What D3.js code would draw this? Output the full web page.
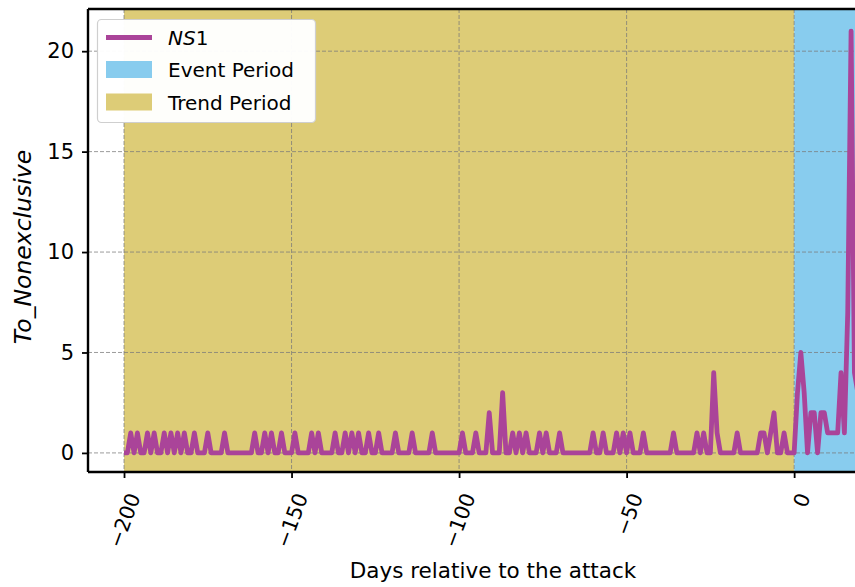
<!DOCTYPE html>
<html>
<head>
<meta charset="utf-8">
<script src="https://cdn.jsdelivr.net/npm/d3@7"></script>
<style>
  body { margin: 0; background: #fff; }
  svg { display: block; }
  text { font-family: "DejaVu Sans", sans-serif; fill: #000; }
</style>
</head>
<body>
<svg id="chart" width="855" height="587"></svg>
<script>
// Daily counts, one value per day starting at day -200
const firstDay = -200;
const counts = [
  // -200 .. -191
  0, 0, 1, 0, 1, 0, 0, 1, 0, 1,
  // -190 .. -181
  0, 0, 1, 0, 1, 0, 1, 0, 1, 0,
  // -180 .. -171
  0, 1, 0, 0, 0, 1, 0, 0, 0, 0,
  // -170 .. -161
  1, 0, 0, 0, 0, 0, 0, 0, 0, 1,
  // -160 .. -151
  0, 0, 1, 0, 1, 0, 0, 1, 0, 0,
  // -150 .. -141
  0, 1, 0, 0, 0, 0, 1, 0, 1, 0,
  // -140 .. -131
  0, 0, 0, 1, 0, 0, 1, 0, 1, 0,
  // -130 .. -121
  1, 0, 0, 1, 0, 0, 1, 0, 0, 0,
  // -120 .. -111
  0, 1, 0, 0, 0, 0, 1, 0, 0, 0,
  // -110 .. -101
  0, 0, 1, 0, 0, 0, 0, 0, 0, 0,
  // -100 .. -91
  0, 1, 0, 0, 0, 1, 0, 0, 0, 2,
  // -90 .. -81
  0, 0, 0, 3, 0, 0, 1, 0, 1, 0,
  // -80 .. -71
  1, 0, 0, 0, 1, 0, 1, 0, 0, 0,
  // -70 .. -61
  1, 0, 0, 0, 0, 0, 0, 0, 0, 0,
  // -60 .. -51
  1, 0, 0, 1, 0, 0, 0, 1, 0, 1,
  // -50 .. -41
  0, 1, 0, 0, 0, 1, 0, 0, 0, 0,
  // -40 .. -31
  0, 0, 0, 0, 1, 0, 0, 0, 0, 0,
  // -30 .. -21
  0, 1, 0, 1, 0, 0, 4, 1, 0, 0,
  // -20 .. -11
  0, 0, 0, 1, 0, 0, 0, 0, 0, 0,
  // -10 .. -1
  1, 1, 0, 1, 2, 0, 0, 1, 0, 0,
  // 0 .. 9
  0, 3, 5, 3, 0, 2, 2, 0, 2, 2,
  // 10 .. 19
  1, 1, 1, 1, 4, 1, 7, 21, 4, 3
];
const days = counts.map((_, i) => firstDay + i);

const seriesName = ["NS", "1"];
const trendPeriod = [-200, 0];
const eventPeriod = [0, 31];
const xTicks = [-200, -150, -100, -50, 0];
const yTicks = [0, 5, 10, 15, 20];
const xLabel = "Days relative to the attack";
const yLabel = "To_Nonexclusive";

const colors = { line: "#AA4499", event: "#88CCEE", trend: "#DDCC77" };

// Layout
const W = 855, H = 587;
const plot = { left: 88, right: 898, top: 9, bottom: 472 };

const svg = d3.select("#chart");
svg.append("rect").attr("width", W).attr("height", H).attr("fill", "#fff");

const x = d3.scaleLinear().domain([-210.75, 31]).range([plot.left, plot.right]);
const y = d3.scaleLinear().domain([-0.95, 22.1]).range([plot.bottom, plot.top]);

svg.append("defs").append("clipPath").attr("id", "plotClip")
  .append("rect")
  .attr("x", plot.left).attr("y", plot.top)
  .attr("width", plot.right - plot.left).attr("height", plot.bottom - plot.top);

const area = svg.append("g").attr("clip-path", "url(#plotClip)");

// Shaded periods
area.append("rect")
  .attr("x", x(trendPeriod[0])).attr("y", plot.top)
  .attr("width", x(trendPeriod[1]) - x(trendPeriod[0]))
  .attr("height", plot.bottom - plot.top)
  .attr("fill", colors.trend);
area.append("rect")
  .attr("x", x(eventPeriod[0])).attr("y", plot.top)
  .attr("width", x(eventPeriod[1]) - x(eventPeriod[0]))
  .attr("height", plot.bottom - plot.top)
  .attr("fill", colors.event);

// Dashed grid
const grid = area.append("g")
  .attr("stroke", "#7a7a7a").attr("stroke-opacity", 0.75)
  .attr("stroke-width", 1).attr("stroke-dasharray", "4,2");
grid.selectAll("line.gx").data(xTicks).join("line")
  .attr("x1", d => x(d)).attr("x2", d => x(d))
  .attr("y1", plot.top).attr("y2", plot.bottom);
grid.selectAll("line.gy").data(yTicks).join("line")
  .attr("x1", plot.left).attr("x2", plot.right)
  .attr("y1", d => y(d)).attr("y2", d => y(d));

// Series line
const series = days.map((d, i) => ({ day: d, value: counts[i] }));
const line = d3.line().x(d => x(d.day)).y(d => y(d.value));
area.append("path")
  .datum(series)
  .attr("d", line)
  .attr("fill", "none")
  .attr("stroke", colors.line)
  .attr("stroke-width", 4.8)
  .attr("stroke-linejoin", "round")
  .attr("stroke-linecap", "butt");

// Axes
const fmt = d => d < 0 ? "\u2212" + Math.abs(d) : String(d);

const yAxis = d3.axisLeft(y).tickValues(yTicks).tickFormat(fmt).tickSize(6).tickPadding(8);
const gy = svg.append("g").attr("transform", `translate(${plot.left},0)`).call(yAxis);
gy.select(".domain").remove();
gy.selectAll(".tick line").attr("stroke", "#000").attr("stroke-width", 1.8);
gy.selectAll(".tick text").attr("font-size", 21).attr("font-family", "DejaVu Sans");

const xAxis = d3.axisBottom(x).tickValues(xTicks).tickFormat(fmt).tickSize(6).tickPadding(0);
const gx = svg.append("g").attr("transform", `translate(0,${plot.bottom})`).call(xAxis);
gx.select(".domain").remove();
gx.selectAll(".tick line").attr("stroke", "#000").attr("stroke-width", 1.8);
gx.selectAll(".tick text")
  .attr("font-size", 20.5)
  .attr("font-family", "DejaVu Sans")
  .attr("text-anchor", "end")
  .attr("dominant-baseline", "central")
  .attr("dy", null)
  .attr("y", 0)
  .attr("transform", "translate(9.5,22) rotate(-70)");

// Spines
const spines = svg.append("g").attr("stroke", "#000").attr("stroke-width", 2.4).attr("fill", "none");
spines.append("line").attr("x1", plot.left).attr("x2", plot.left).attr("y1", plot.top).attr("y2", plot.bottom);
spines.append("line").attr("x1", plot.left).attr("x2", plot.right).attr("y1", plot.bottom).attr("y2", plot.bottom);
spines.append("line").attr("x1", plot.left).attr("x2", plot.right).attr("y1", plot.top).attr("y2", plot.top);
spines.append("line").attr("x1", plot.right).attr("x2", plot.right).attr("y1", plot.top).attr("y2", plot.bottom);

// Axis labels
svg.append("text")
  .attr("x", (plot.left + plot.right) / 2).attr("y", 578)
  .attr("text-anchor", "middle").attr("font-size", 21.5)
  .text(xLabel);

svg.append("text")
  .attr("transform", `translate(31,247) rotate(-90)`)
  .attr("text-anchor", "middle").attr("font-size", 23.5)
  .attr("font-style", "italic")
  .text(yLabel);

// Legend
const lg = svg.append("g");
lg.append("rect")
  .attr("x", 97.5).attr("y", 19.5).attr("width", 218).attr("height", 103)
  .attr("rx", 4).attr("ry", 4)
  .attr("fill", "#fff").attr("fill-opacity", 0.97)
  .attr("stroke", "#cfcfcf").attr("stroke-width", 1.2);
lg.append("line")
  .attr("x1", 106).attr("x2", 152).attr("y1", 37.5).attr("y2", 37.5)
  .attr("stroke", colors.line).attr("stroke-width", 4.8);
lg.append("rect").attr("x", 106).attr("y", 61).attr("width", 46).attr("height", 17)
  .attr("fill", colors.event);
lg.append("rect").attr("x", 106).attr("y", 93.5).attr("width", 46).attr("height", 17)
  .attr("fill", colors.trend);

const nsText = lg.append("text").attr("x", 168).attr("y", 44.5).attr("font-size", 20);
nsText.append("tspan").attr("font-style", "italic").text(seriesName[0]);
nsText.append("tspan").text(seriesName[1]);
lg.append("text").attr("x", 168).attr("y", 77).attr("font-size", 20).text("Event Period");
lg.append("text").attr("x", 168).attr("y", 109.5).attr("font-size", 20).text("Trend Period");
</script>
</body>
</html>
